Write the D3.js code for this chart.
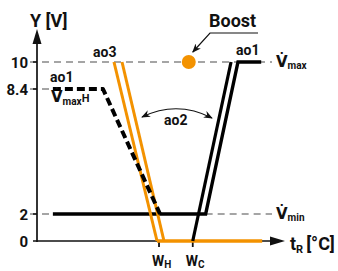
<!DOCTYPE html>
<html>
<head>
<meta charset="utf-8">
<script src="https://cdn.jsdelivr.net/npm/d3@7"></script>
<style>
  body { margin: 0; background: #fff; }
  text { font-family: Roboto, "DejaVu Sans", sans-serif; font-weight: bold; fill: #111; }
</style>
</head>
<body>
<div id="chart"></div>
<script>
var width = 338, height = 271;

// schematic values (x in arbitrary temperature units, y in volts)
var yTicks = [0, 2, 8.4, 10];
var xTicks = [{base: "W", sub: "H", v: 12.3}, {base: "W", sub: "C", v: 15.7}];
var ao1Heat = [[1.6, 8.4], [6.65, 8.4], [12.4, 2]];         // dashed, V max H
var ao3Left = [[7.76, 10], [12.1, 0]];
var ao3Right = [[8.57, 10], [12.8, 0]];
var ao3Base = [[12.1, 0], [22.7, 0]];
var ao1CoolLeft = [[15.7, 0], [19.56, 10]];
var ao1CoolRight = [[1.6, 2], [17.0, 2], [20.26, 10], [22.6, 10]];
var boost = [15.3, 10];

var orange = "#f39200";

var x = d3.scaleLinear().domain([0, 25]).range([37, 285]);
var y = d3.scaleLinear().domain([0, 2, 8.4, 10]).range([241, 214, 89, 62]);

var svg = d3.select("#chart").append("svg")
    .attr("width", width)
    .attr("height", height);

var defs = svg.append("defs");
defs.append("marker")
    .attr("id", "arr")
    .attr("viewBox", "0 0 10 10")
    .attr("refX", 9).attr("refY", 5)
    .attr("markerWidth", 9).attr("markerHeight", 9)
    .attr("markerUnits", "userSpaceOnUse")
    .attr("orient", "auto-start-reverse")
    .append("path")
    .attr("d", "M0,1 L10,5 L0,9 L3,5 Z")
    .attr("fill", "#111");

var line = d3.line()
    .x(function(d) { return x(d[0]); })
    .y(function(d) { return y(d[1]); });

// reference dashed levels
function refLine(x1, x2, v) {
    svg.append("line")
        .attr("x1", x1).attr("x2", x2)
        .attr("y1", y(v)).attr("y2", y(v))
        .attr("stroke", "#888").attr("stroke-width", 1.3)
        .attr("stroke-dasharray", "7,5");
}
refLine(30, 272, 10);
refLine(30, x(1.6), 8.4);
refLine(30, x(1.6), 2);
refLine(x(17.0), 272, 2);

// axes
var yTop = 29, xEnd = 285;
svg.append("line")
    .attr("x1", x(0)).attr("x2", x(0))
    .attr("y1", y(0) + 1).attr("y2", yTop + 10)
    .attr("stroke", "#111").attr("stroke-width", 1.7);
svg.append("path")
    .attr("d", "M" + x(0) + "," + yTop + " L" + (x(0) - 4.5) + "," + (yTop + 15) +
        " L" + (x(0) + 4.5) + "," + (yTop + 15) + " Z")
    .attr("fill", "#111");
svg.append("line")
    .attr("x1", x(0)).attr("x2", xEnd - 10)
    .attr("y1", y(0)).attr("y2", y(0))
    .attr("stroke", "#111").attr("stroke-width", 1.7);
svg.append("path")
    .attr("d", "M" + xEnd + "," + y(0) + " L" + (xEnd - 15) + "," + (y(0) - 4.5) +
        " L" + (xEnd - 15) + "," + (y(0) + 4.5) + " Z")
    .attr("fill", "#111");

svg.selectAll(".ytick").data(yTicks).enter().append("line")
    .attr("x1", x(0) - 4).attr("x2", x(0))
    .attr("y1", function(d) { return y(d); })
    .attr("y2", function(d) { return y(d); })
    .attr("stroke", "#111").attr("stroke-width", 1.5);
svg.selectAll(".ylab").data(yTicks).enter().append("text")
    .attr("x", 28)
    .attr("y", function(d) { return y(d) + 5.5; })
    .attr("text-anchor", "end")
    .style("font-size", "15px")
    .text(function(d) { return d; });

svg.selectAll(".xtick").data(xTicks).enter().append("line")
    .attr("x1", function(d) { return x(d.v); })
    .attr("x2", function(d) { return x(d.v); })
    .attr("y1", y(0)).attr("y2", y(0) + 6)
    .attr("stroke", "#111").attr("stroke-width", 1.8);
var xl = svg.selectAll(".xlab").data(xTicks).enter().append("text")
    .attr("x", function(d) { return x(d.v) - 7; })
    .attr("y", 266)
    .style("font-size", "14px");
xl.append("tspan").text(function(d) { return d.base; });
xl.append("tspan").attr("dy", 2).style("font-size", "10px").text(function(d) { return d.sub; });

// curves
svg.append("path").datum(ao3Base)
    .attr("d", line).attr("fill", "none")
    .attr("stroke", orange).attr("stroke-width", 3.4);
svg.append("path").datum(ao1CoolRight)
    .attr("d", line).attr("fill", "none")
    .attr("stroke", "#000").attr("stroke-width", 3.4);
svg.append("path").datum(ao1CoolLeft)
    .attr("d", line).attr("fill", "none")
    .attr("stroke", "#000").attr("stroke-width", 3.2);
svg.append("path").datum(ao3Left)
    .attr("d", line).attr("fill", "none")
    .attr("stroke", orange).attr("stroke-width", 3);
svg.append("path").datum(ao3Right)
    .attr("d", line).attr("fill", "none")
    .attr("stroke", orange).attr("stroke-width", 3);
svg.append("path").datum(ao1Heat)
    .attr("d", line.curve(d3.curveLinear)).attr("fill", "none")
    .attr("stroke", "#000").attr("stroke-width", 4)
    .attr("stroke-linejoin", "round")
    .attr("stroke-dasharray", "8,4");

// boost dot and callout
svg.append("circle")
    .attr("cx", x(boost[0])).attr("cy", y(boost[1]))
    .attr("r", 7).attr("fill", orange);
svg.append("path")
    .attr("d", "M258,33 L210,33 L" + (x(boost[0]) + 4) + "," + (y(boost[1]) - 10))
    .attr("fill", "none").attr("stroke", "#111").attr("stroke-width", 1.2)
    .attr("marker-end", "url(#arr)");
svg.append("text").attr("x", 209).attr("y", 27)
    .style("font-size", "18px").text("Boost");

// ao2 double arrow
svg.append("path")
    .attr("d", "M142,117 Q177,100 212,118")
    .attr("fill", "none").attr("stroke", "#111").attr("stroke-width", 1.2)
    .attr("marker-start", "url(#arr)")
    .attr("marker-end", "url(#arr)");
svg.append("text").attr("x", 164).attr("y", 125)
    .style("font-size", "14px").text("ao2");

// labels
svg.append("text").attr("x", 30).attr("y", 27)
    .style("font-size", "18px").text("Y [V]");
var tr = svg.append("text").attr("x", 290).attr("y", 250).style("font-size", "18px");
tr.append("tspan").text("t");
tr.append("tspan").attr("dy", 3).style("font-size", "11px").text("R");
tr.append("tspan").attr("dy", -3).attr("dx", 3).text("[°C]");

svg.append("text").attr("x", 93).attr("y", 57)
    .style("font-size", "14px").text("ao3");
svg.append("text").attr("x", 50).attr("y", 82)
    .style("font-size", "14px").text("ao1");
svg.append("text").attr("x", 236).attr("y", 55)
    .style("font-size", "14px").text("ao1");

var vh = svg.append("text").attr("x", 51).attr("y", 102).style("font-size", "15px");
vh.append("tspan").text("V\u0307");
vh.append("tspan").attr("dy", 3).style("font-size", "10px").text("max");
vh.append("tspan").attr("dy", -3).style("font-size", "11px").text("H");

var vmax = svg.append("text").attr("x", 276).attr("y", 67).style("font-size", "15px");
vmax.append("tspan").text("V\u0307");
vmax.append("tspan").attr("dy", 2).style("font-size", "10px").text("max");

var vmin = svg.append("text").attr("x", 276).attr("y", 219).style("font-size", "15px");
vmin.append("tspan").text("V\u0307");
vmin.append("tspan").attr("dy", 2).style("font-size", "10px").text("min");
</script>
</body>
</html>
